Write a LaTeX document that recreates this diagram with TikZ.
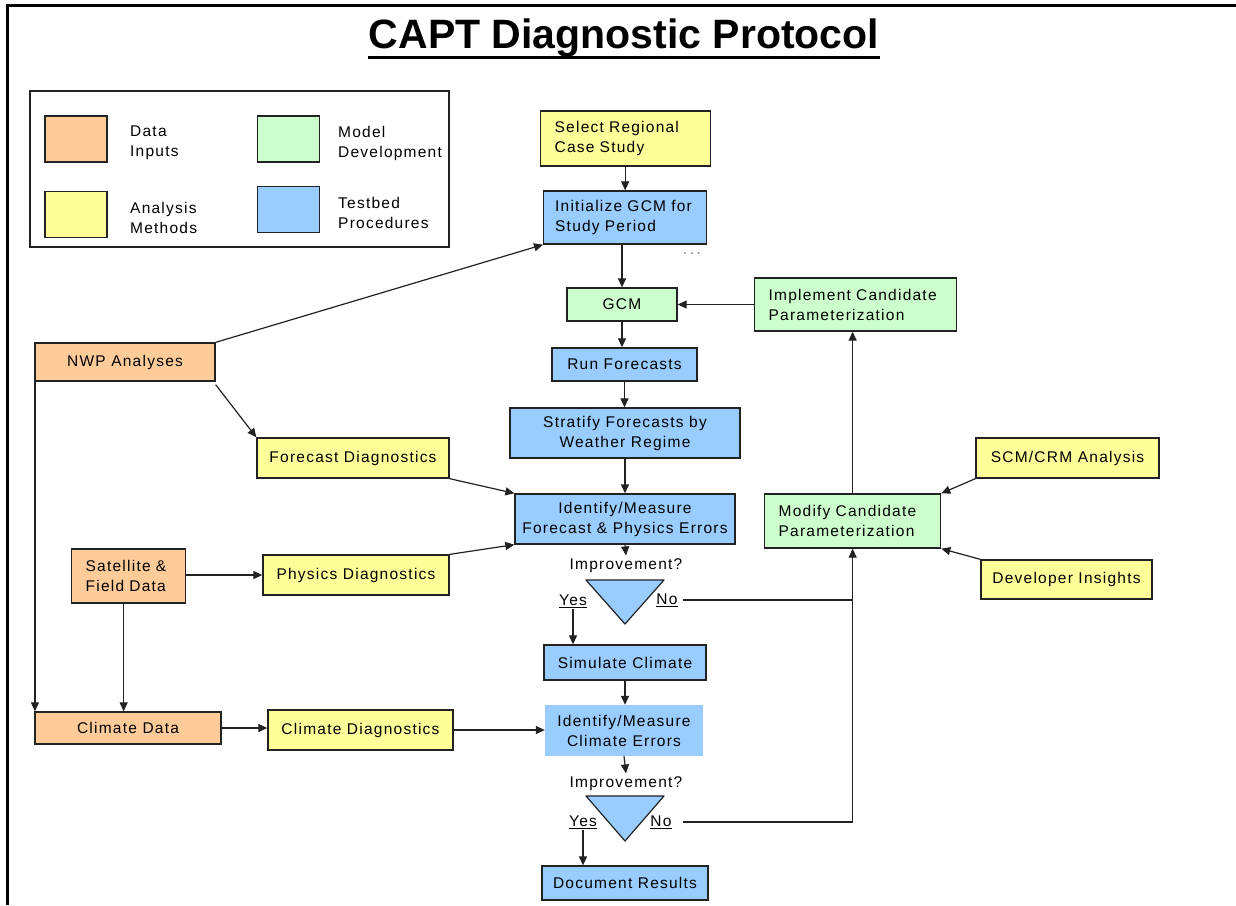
\documentclass[tikz,border=0pt]{standalone}
\usepackage{fontspec}
\setmainfont{Liberation Sans}
\newfontfamily\labfont{Liberation Sans}[LetterSpace=8]
\usetikzlibrary{arrows.meta}
\definecolor{cOrange}{HTML}{FFCC99}
\definecolor{cYellow}{HTML}{FFFF99}
\definecolor{cGreen}{HTML}{CCFFCC}
\definecolor{cBlue}{HTML}{99CCFF}
\definecolor{cLine}{HTML}{222222}
\tikzset{
  lab/.style={font=\labfont\fontsize{15.5}{20}\selectfont, text=black},
  box/.style={lab, draw=cLine, line width=1.3pt, inner sep=0pt, align=center},
  leftbox/.style={align=left, inner xsep=14pt, anchor=west},
  orangebox/.style={box, fill=cOrange},
  yellowbox/.style={box, fill=cYellow},
  greenbox/.style={box, fill=cGreen},
  bluebox/.style={box, fill=cBlue},
  swatch/.style={draw=cLine, line width=1.3pt, inner sep=0pt, minimum width=62pt, minimum height=46pt},
  arr/.style={draw=cLine, line width=1.2pt, -{Triangle[length=9pt,width=8pt]}},
  ln/.style={draw=cLine, line width=1.2pt},
  legtext/.style={lab, align=left, anchor=west, inner sep=0pt},
  yn/.style={lab, inner sep=1pt},
}
\begin{document}
\begin{tikzpicture}[x=1pt,y=-1pt]
\useasboundingbox (0,0) rectangle (1236,905);
\fill[white] (0,0) rectangle (1236,905);
% frame
\draw[line width=3pt] (7.5,905) -- (7.5,5.5) -- (1236,5.5);
% title
\node[font=\fontsize{41}{48}\selectfont\bfseries, inner sep=0pt] (title) at (624,38) {CAPT Diagnostic Protocol};
\draw[line width=3pt] (368,57) -- (880,57);
% legend
\node[draw=cLine, line width=1.3pt, minimum width=419pt, minimum height=156pt, inner sep=0pt] (legend) at (239.5,169) {};
\node[swatch, fill=cOrange] (swO) at (76,139) {};
\node[swatch, fill=cYellow] (swY) at (76,214.5) {};
\node[swatch, fill=cGreen] (swG) at (288.5,139) {};
\node[swatch, fill=cBlue] (swB) at (288.5,209.5) {};
\node[legtext] (lgO) at (130,143) {Data\\Inputs};
\node[legtext] (lgY) at (130,217.5) {Analysis\\Methods};
\node[legtext] (lgG) at (338,143) {Model\\Development};
\node[legtext] (lgB) at (338,213) {Testbed\\Procedures};
% main column
\node[yellowbox, leftbox, text width=142pt, minimum height=55pt] (sel) at (540,138.5) {Select Regional\\Case Study};
\node[bluebox, leftbox, inner xsep=11.5pt, text width=140pt, minimum height=53pt] (init) at (543,217.5) {Initialize GCM for\\Study Period};
\node[lab, text=gray] (dots) at (692,254) {.\,.\,.};
\node[greenbox, minimum width=110pt, minimum height=33pt] (gcm) at (622,304.5) {GCM};
\node[greenbox, leftbox, text width=174pt, minimum height=53pt] (impl) at (754,304.5) {Implement Candidate\\Parameterization};
\node[bluebox, minimum width=145pt, minimum height=33pt] (run) at (624.5,364.5) {Run Forecasts};
\node[bluebox, minimum width=230pt, minimum height=50pt] (strat) at (625,433) {Stratify Forecasts by\\Weather Regime};
\node[bluebox, minimum width=220pt, minimum height=50pt] (idf) at (625,519) {Identify/Measure\\Forecast \& Physics Errors};
\node[lab] (imp1) at (626,566) {Improvement?};
\coordinate (t1a) at (586,580);
\coordinate (t1b) at (664,580);
\coordinate (t1c) at (625,624);
\draw[fill=cBlue, draw=cLine, line width=1.2pt, line join=round] (t1a) -- (t1b) -- (t1c) -- cycle;
\node[yn] (yes1) at (573,601) {\underline{Yes}};
\node[yn] (no1) at (667,600) {\underline{No}};
\node[bluebox, minimum width=162pt, minimum height=35pt] (sim) at (625,662.5) {Simulate Climate};
\node[lab, fill=cBlue, inner sep=0pt, align=center, minimum width=158pt, minimum height=51pt] (idc) at (624,730.5) {Identify/Measure\\Climate Errors};
\node[lab] (imp2) at (626,784) {Improvement?};
\coordinate (t2a) at (586,796);
\coordinate (t2b) at (664,796);
\coordinate (t2c) at (625,841);
\draw[fill=cBlue, draw=cLine, line width=1.2pt, line join=round] (t2a) -- (t2b) -- (t2c) -- cycle;
\node[yn] (yes2) at (583,822) {\underline{Yes}};
\node[yn] (no2) at (661,822) {\underline{No}};
\node[bluebox, minimum width=166pt, minimum height=34pt] (doc) at (625,883) {Document Results};
% right side
\node[greenbox, leftbox, text width=148pt, minimum height=54pt] (mod) at (764,521) {Modify Candidate\\Parameterization};
\node[yellowbox, minimum width=183pt, minimum height=40pt] (scm) at (1067.5,458) {SCM/CRM Analysis};
\node[yellowbox, minimum width=171pt, minimum height=39pt] (dev) at (1066.5,579.5) {Developer Insights};
% left side
\node[orangebox, minimum width=180pt, minimum height=38pt] (nwp) at (125,362) {NWP Analyses};
\node[yellowbox, minimum width=192pt, minimum height=40pt] (fdiag) at (353,458) {Forecast Diagnostics};
\node[orangebox, leftbox, text width=86pt, minimum height=54pt] (sat) at (71,576) {Satellite \&\\Field Data};
\node[yellowbox, minimum width=186pt, minimum height=40pt] (pdiag) at (356,575) {Physics Diagnostics};
\node[orangebox, minimum width=186pt, minimum height=32pt] (cdata) at (128,728) {Climate Data};
\node[yellowbox, minimum width=185pt, minimum height=40pt] (cdiag) at (360.5,730) {Climate Diagnostics};
% connectors
\draw[arr] (sel.south -| init.north) -- (init.north);
\draw[arr] (init.south -| gcm.north) -- (gcm.north);
\draw[arr] (impl.west) -- (gcm.east);
\draw[arr] (gcm.south) -- (gcm.south |- run.north);
\draw[arr] (run.south) -- (run.south |- strat.north);
\draw[arr] (strat.south) -- (idf.north);
\draw[arr] (idf.south) -- (imp1.north);
\draw[arr] (yes1.south) -- (yes1.south |- sim.north);
\draw[arr] (sim.south) -- (sim.south |- idc.north);
\draw[arr] (idc.south) -- (imp2.north);
\draw[arr] (yes2.south) -- (yes2.south |- doc.north);
\coordinate (j1) at (mod.south |- no1.east);
\coordinate (j2) at (mod.south |- no2.east);
\draw[ln] ([xshift=4pt]no1.east) -- (j1);
\draw[ln] ([xshift=10pt]no2.east) -- (j2);
\draw[arr] (j2) -- (mod.south);
\draw[arr] (mod.north) -- (mod.north |- impl.south);
\draw[arr] (scm.south west) -- (mod.north east);
\draw[arr] (dev.north west) -- (mod.south east);
\draw[arr] (nwp.north east) -- (init.south west);
\draw[arr] ([yshift=-3pt]nwp.south east) -- (fdiag.north west);
\draw[arr] ([xshift=0.6pt]nwp.south west) -- ([xshift=0.6pt]cdata.north west);
\draw[arr] (fdiag.south east) -- (idf.north west);
\draw[arr] (pdiag.north east) -- (idf.south west);
\draw[arr] (sat.east |- pdiag.west) -- (pdiag.west);
\draw[arr] ([xshift=-5pt]sat.south) -- ([xshift=-5pt]sat.south |- cdata.north);
\draw[arr] (cdata.east) -- (cdata.east -| cdiag.west);
\draw[arr] (cdiag.east) -- (cdiag.east -| idc.west);
\end{tikzpicture}
\end{document}
